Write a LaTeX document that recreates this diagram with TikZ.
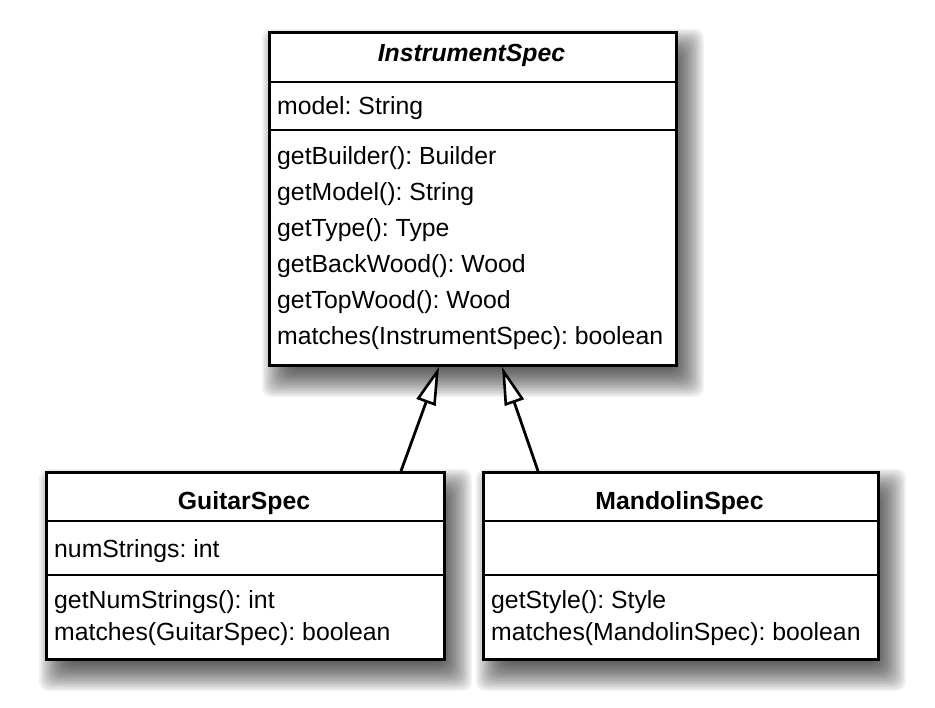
\documentclass[tikz,border=0pt]{standalone}
\usepackage{fontspec}
\setmainfont{Liberation Sans}
\frenchspacing
\usetikzlibrary{arrows.meta,calc,backgrounds}
\tikzset{
  umlbox/.style={draw=black, line width=2.8pt, fill=white, inner sep=0pt, anchor=north west},
  sep/.style={line width=2pt},
  txt/.style={anchor=base west, inner sep=0pt, font=\fontsize{24.8}{29}\selectfont},
  ttl/.style={anchor=base, inner sep=0pt, font=\fontsize{24.8}{29}\selectfont\bfseries},
  gen/.style={line width=2.8pt, -{Triangle[open, fill=white, length=38pt, width=20pt, line width=2.6pt]}},
  shadowlayer/.style={fill=black, fill opacity=0.06, rounded corners=9pt}
}
\newcommand\umlshadow[1]{%
  \foreach \e in {-14,-12,...,16}{%
    \fill[shadowlayer] ($(#1.north west)+(10-\e,14-\e)$) rectangle ($(#1.south east)+(10+\e,14+\e)$);
  }%
}
\begin{document}
\begin{tikzpicture}[x=1pt, y=-1pt]
\useasboundingbox (0,0) rectangle (935,708);
% boxes
\node[umlbox, minimum width=407pt, minimum height=333pt] (is) at (268,31) {};
\node[umlbox, minimum width=398pt, minimum height=187pt] (gs) at (45,471) {};
\node[umlbox, minimum width=395pt, minimum height=187pt] (ms) at (482,471) {};
\begin{scope}[on background layer]
  \fill[white] (0,0) rectangle (935,708);
  \umlshadow{is}
  \umlshadow{gs}
  \umlshadow{ms}
\end{scope}
% separators
\draw[sep] (is.west |- 0,82) -- (is.east |- 0,82);
\draw[sep] (is.west |- 0,130) -- (is.east |- 0,130);
\draw[sep] (gs.west |- 0,521) -- (gs.east |- 0,521);
\draw[sep] (gs.west |- 0,575) -- (gs.east |- 0,575);
\draw[sep] (ms.west |- 0,521) -- (ms.east |- 0,521);
\draw[sep] (ms.west |- 0,575) -- (ms.east |- 0,575);
% InstrumentSpec texts
\node[ttl, font=\fontsize{24.8}{29}\selectfont\bfseries\itshape] (ist) at (471.5,62) {InstrumentSpec};
\node[txt] (isa) at (277,115) {model: String};
\node[txt] (ism1) at (277,165) {getBuilder(): Builder};
\node[txt] (ism2) at (277,201) {getModel(): String};
\node[txt] (ism3) at (277,237) {getType(): Type};
\node[txt] (ism4) at (277,273) {getBackWood(): Wood};
\node[txt] (ism5) at (277,309) {getTopWood(): Wood};
\node[txt] (ism6) at (277,345) {matches(InstrumentSpec): boolean};
% GuitarSpec texts
\node[ttl] (gst) at (244,510) {GuitarSpec};
\node[txt] (gsa) at (54,558) {numStrings: int};
\node[txt] (gsm1) at (54,608) {getNumStrings(): int};
\node[txt] (gsm2) at (54,640) {matches(GuitarSpec): boolean};
% MandolinSpec texts
\node[ttl] (mst) at (679.5,510) {MandolinSpec};
\node[txt] (msm1) at (491,608) {getStyle(): Style};
\node[txt] (msm2) at (491,640) {matches(MandolinSpec): boolean};
% generalizations
\draw[gen] ($(gs.north west)+(356,0)$) -- ($(is.south west)+(171,0)$);
\draw[gen] ($(ms.north west)+(56,0)$) -- ($(is.south west)+(234,0)$);
\end{tikzpicture}
\end{document}
